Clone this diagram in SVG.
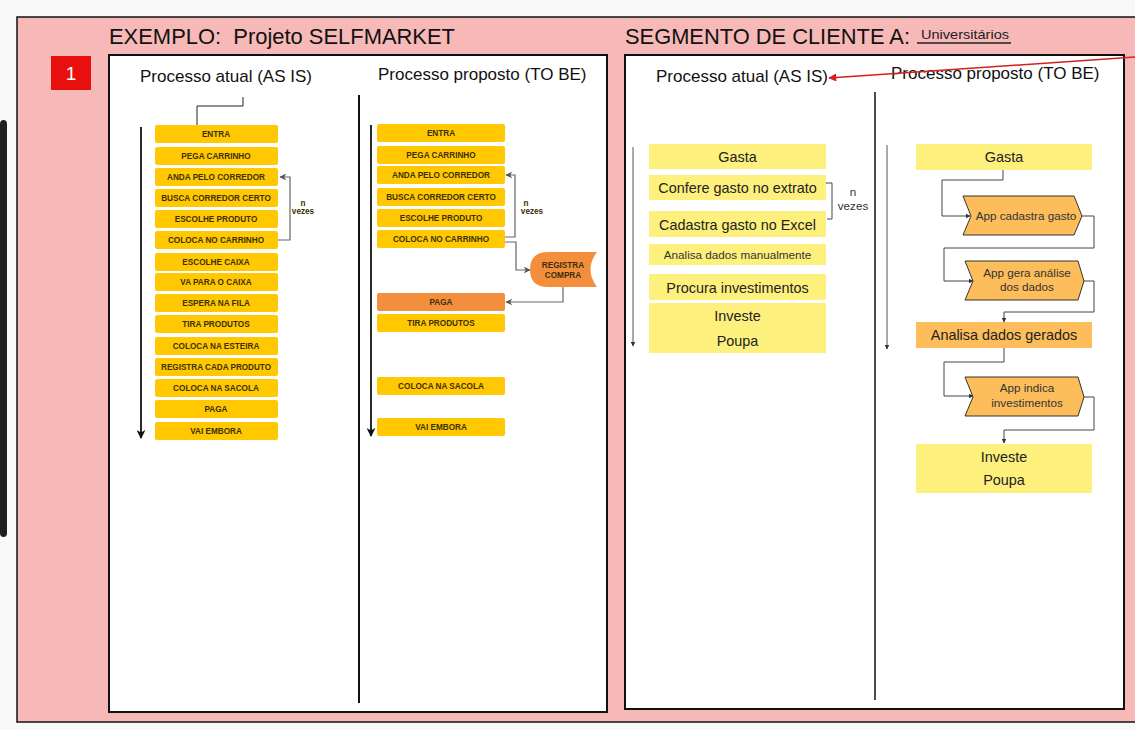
<svg xmlns="http://www.w3.org/2000/svg" width="1135" height="730" viewBox="0 0 1135 730">
<defs>
<style>
.frame{fill:#f7b8b8;stroke:#111;stroke-width:1.5}
.panel{fill:#fff;stroke:#111;stroke-width:2}
.title{font-family:"Liberation Sans",Arial,sans-serif;font-size:22px;fill:#111}
.hdr{font-family:"Liberation Sans",Arial,sans-serif;font-size:17px;fill:#111}
.gold{fill:#ffc800}
.org{fill:#f28e3c}
.pale{fill:#fdf07c}
.lorg{fill:#fdbd5b}
.chev{fill:#fdbd5b;stroke:#333;stroke-width:1}
.st{font-family:"Liberation Sans",Arial,sans-serif;font-size:8.2px;font-weight:bold;fill:#3d3008;text-anchor:middle}
.rt{font-family:"Liberation Sans",Arial,sans-serif;font-size:14.4px;fill:#222;text-anchor:middle}
.rs{font-family:"Liberation Sans",Arial,sans-serif;font-size:11.7px;fill:#333;text-anchor:middle}
.gl{fill:none;stroke:#666;stroke-width:1.2}
.dl{fill:none;stroke:#444;stroke-width:1}
.vl{stroke:#111;stroke-width:2}
</style>
<marker id="ga" viewBox="0 0 10 10" refX="9" refY="5" markerWidth="7" markerHeight="7" markerUnits="userSpaceOnUse" orient="auto"><path d="M0,0 L10,5 L0,10 L3,5 Z" fill="#555"/></marker>
<marker id="da" viewBox="0 0 10 10" refX="9" refY="5" markerWidth="5" markerHeight="5" markerUnits="userSpaceOnUse" orient="auto"><path d="M0,0 L10,5 L0,10 Z" fill="#333"/></marker>
<marker id="ba" viewBox="0 0 10 10" refX="9" refY="5" markerWidth="9" markerHeight="9" markerUnits="userSpaceOnUse" orient="auto"><path d="M0,0 L10,5 L0,10 L3,5 Z" fill="#111"/></marker>
<marker id="ra" viewBox="0 0 10 10" refX="9" refY="5" markerWidth="9" markerHeight="8" markerUnits="userSpaceOnUse" orient="auto"><path d="M0,0 L10,5 L0,10 Z" fill="#d42020"/></marker>
</defs>
<rect x="0" y="0" width="1135" height="730" fill="#f8f8f8"/>
<rect x="0" y="120" width="7" height="417" rx="4" fill="#1e1e1e"/>
<rect class="frame" x="17" y="17" width="1130" height="705"/>
<g id="badge"><rect x="51" y="56" width="40" height="34" fill="#e8100e"/><text x="71" y="80" font-family="Liberation Sans,Arial,sans-serif" font-size="19" fill="#fff" text-anchor="middle">1</text></g>
<g id="titles">
<text class="title" x="109" y="44" textLength="346" lengthAdjust="spacingAndGlyphs" xml:space="preserve">EXEMPLO:  Projeto SELFMARKET</text>
<text class="title" x="625" y="44" textLength="285" lengthAdjust="spacingAndGlyphs">SEGMENTO DE CLIENTE A:</text>
<text x="921" y="39" font-family="Liberation Sans,Arial,sans-serif" font-size="13.5" fill="#222" textLength="88" lengthAdjust="spacingAndGlyphs">Universitários</text>
<line x1="917" y1="43" x2="1011" y2="43" stroke="#222" stroke-width="1.5"/>
</g>
<rect class="panel" x="109" y="55" width="498" height="657"/>
<rect class="panel" x="625" y="55" width="499" height="654"/>
<g id="headers">
<text class="hdr" x="140" y="82">Processo atual (AS IS)</text>
<text class="hdr" x="378" y="80">Processo proposto (TO BE)</text>
<text class="hdr" x="656" y="82">Processo atual (AS IS)</text>
<text class="hdr" x="891" y="79">Processo proposto (TO BE)</text>
</g>
<line class="vl" x1="359" y1="95" x2="359" y2="703"/>
<line x1="875" y1="92" x2="875" y2="700" stroke="#111" stroke-width="1.5"/>
<g id="connectors">
<line x1="141" y1="127" x2="141" y2="438" stroke="#111" stroke-width="1.8" marker-end="url(#ba)"/>
<line x1="371" y1="125" x2="371" y2="436" stroke="#111" stroke-width="1.8" marker-end="url(#ba)"/>
<path d="M243,97 V106 H197 V135 H205" fill="none" stroke="#222" stroke-width="1"/>
<path class="gl" d="M278,240 H290 V177 H280" marker-end="url(#ga)"/>
<path class="gl" d="M505,237 H515 V175 H506" marker-end="url(#ga)"/>
<path class="gl" d="M505,242 H516 V270 H530" marker-end="url(#ga)"/>
<path class="gl" d="M563,287 V302 H506" marker-end="url(#ga)"/>
<line x1="633" y1="147" x2="633" y2="346" stroke="#555" stroke-width="1" marker-end="url(#da)"/>
<line x1="887" y1="145" x2="887" y2="349" stroke="#555" stroke-width="1" marker-end="url(#da)"/>
<path class="dl" d="M827,183 H832 V219 H827" marker-start="url(#da)"/>
<path class="dl" d="M1003,170 V180 H942 V216 H970" marker-end="url(#da)"/>
<path class="dl" d="M1082,216 H1094 V248 H944 V281 H973" marker-end="url(#da)"/>
<path class="dl" d="M1084,281 H1094 V312 H1004 V322" marker-end="url(#da)"/>
<path class="dl" d="M1004,348 V362 H944 V396 H973" marker-end="url(#da)"/>
<path class="dl" d="M1084,397 H1094 V430 H1004 V443" marker-end="url(#da)"/>
<line x1="1135" y1="57" x2="829" y2="78" stroke="#d42020" stroke-width="1.5" marker-end="url(#ra)"/>
</g>
<g id="asis-left">
<g id="l1"><rect class="gold" x="155" y="125" width="123" height="18" rx="2"/><text class="st" x="216" y="137">ENTRA</text></g>
<g id="l2"><rect class="gold" x="155" y="147" width="123" height="18" rx="2"/><text class="st" x="216" y="159">PEGA CARRINHO</text></g>
<g id="l3"><rect class="gold" x="155" y="168" width="123" height="18" rx="2"/><text class="st" x="216" y="180">ANDA PELO CORREDOR</text></g>
<g id="l4"><rect class="gold" x="155" y="189" width="123" height="18" rx="2"/><text class="st" x="216" y="201">BUSCA CORREDOR CERTO</text></g>
<g id="l5"><rect class="gold" x="155" y="210" width="123" height="18" rx="2"/><text class="st" x="216" y="222">ESCOLHE PRODUTO</text></g>
<g id="l6"><rect class="gold" x="155" y="231" width="123" height="18" rx="2"/><text class="st" x="216" y="243">COLOCA NO CARRINHO</text></g>
<g id="l7"><rect class="gold" x="155" y="253" width="123" height="18" rx="2"/><text class="st" x="216" y="265">ESCOLHE CAIXA</text></g>
<g id="l8"><rect class="gold" x="155" y="273" width="123" height="18" rx="2"/><text class="st" x="216" y="285">VA PARA O CAIXA</text></g>
<g id="l9"><rect class="gold" x="155" y="294" width="123" height="18" rx="2"/><text class="st" x="216" y="306">ESPERA NA FILA</text></g>
<g id="l10"><rect class="gold" x="155" y="315" width="123" height="18" rx="2"/><text class="st" x="216" y="327">TIRA PRODUTOS</text></g>
<g id="l11"><rect class="gold" x="155" y="337" width="123" height="18" rx="2"/><text class="st" x="216" y="349">COLOCA NA ESTEIRA</text></g>
<g id="l12"><rect class="gold" x="155" y="358" width="123" height="18" rx="2"/><text class="st" x="216" y="370" textLength="110" lengthAdjust="spacingAndGlyphs">REGISTRA CADA PRODUTO</text></g>
<g id="l13"><rect class="gold" x="155" y="379" width="123" height="18" rx="2"/><text class="st" x="216" y="391">COLOCA NA SACOLA</text></g>
<g id="l14"><rect class="gold" x="155" y="400" width="123" height="18" rx="2"/><text class="st" x="216" y="412">PAGA</text></g>
<g id="l15"><rect class="gold" x="155" y="422" width="123" height="18" rx="2"/><text class="st" x="216" y="434">VAI EMBORA</text></g>
<g id="l-nvezes"><text class="st" x="303" y="206" font-size="6.5">n</text><text class="st" x="303" y="214" font-size="6.5">vezes</text></g>
</g>
<g id="tobe-left">
<g id="m1"><rect class="gold" x="377" y="124" width="128" height="18" rx="2"/><text class="st" x="441" y="136">ENTRA</text></g>
<g id="m2"><rect class="gold" x="377" y="146" width="128" height="18" rx="2"/><text class="st" x="441" y="158">PEGA CARRINHO</text></g>
<g id="m3"><rect class="gold" x="377" y="166" width="128" height="18" rx="2"/><text class="st" x="441" y="178">ANDA PELO CORREDOR</text></g>
<g id="m4"><rect class="gold" x="377" y="188" width="128" height="18" rx="2"/><text class="st" x="441" y="200">BUSCA CORREDOR CERTO</text></g>
<g id="m5"><rect class="gold" x="377" y="209" width="128" height="18" rx="2"/><text class="st" x="441" y="221">ESCOLHE PRODUTO</text></g>
<g id="m6"><rect class="gold" x="377" y="230" width="128" height="18" rx="2"/><text class="st" x="441" y="242">COLOCA NO CARRINHO</text></g>
<g id="m7"><path class="org" d="M548,252 H597 Q584,269.5 597,287 H548 Q530,287 530,269.5 Q530,252 548,252 Z"/><text class="st" x="563" y="268" font-size="6.3" font-weight="normal">REGISTRA</text><text class="st" x="563" y="278" font-size="6.3" font-weight="normal">COMPRA</text></g>
<g id="m8"><rect class="org" x="377" y="293" width="128" height="18" rx="2"/><text class="st" x="441" y="305">PAGA</text></g>
<g id="m9"><rect class="gold" x="377" y="314" width="128" height="18" rx="2"/><text class="st" x="441" y="326">TIRA PRODUTOS</text></g>
<g id="m10"><rect class="gold" x="377" y="377" width="128" height="18" rx="2"/><text class="st" x="441" y="389">COLOCA NA SACOLA</text></g>
<g id="m11"><rect class="gold" x="377" y="418" width="128" height="18" rx="2"/><text class="st" x="441" y="430">VAI EMBORA</text></g>
<g id="m-nvezes"><text class="st" x="526" y="206" font-size="6.5">n</text><text class="st" x="532" y="214" font-size="6.5">vezes</text></g>
</g>
<g id="asis-right">
<g id="r1"><rect class="pale" x="649" y="144" width="177" height="25"/><text class="rt" x="737.5" y="162">Gasta</text></g>
<g id="r2"><rect class="pale" x="649" y="175" width="177" height="25"/><text class="rt" x="737.5" y="192.5">Confere gasto no extrato</text></g>
<g id="r3"><rect class="pale" x="649" y="211" width="177" height="26"/><text class="rt" x="737.5" y="229.5">Cadastra gasto no Excel</text></g>
<g id="r4"><rect class="pale" x="649" y="244" width="177" height="21"/><text class="rs" x="737.5" y="258.5" font-size="12">Analisa dados manualmente</text></g>
<g id="r5"><rect class="pale" x="649" y="274" width="177" height="26"/><text class="rt" x="737.5" y="292.5">Procura investimentos</text></g>
<g id="r6"><rect class="pale" x="649" y="303" width="177" height="50"/><text class="rt" x="737.5" y="321">Investe</text><text class="rt" x="737.5" y="346">Poupa</text></g>
<g id="r-nvezes"><text class="rs" x="853" y="196" font-size="11">n</text><text class="rs" x="853" y="210" font-size="11">vezes</text></g>
</g>
<g id="tobe-right">
<g id="t1"><rect class="pale" x="916" y="144" width="176" height="26"/><text class="rt" x="1004" y="162">Gasta</text></g>
<g id="t2"><path class="chev" d="M963,196 H1074 L1082,216 L1074,235 H963 L971,216 Z"/><text class="rs" x="1026" y="220">App cadastra gasto</text></g>
<g id="t3"><path class="chev" d="M965,261 H1078 L1084,281 L1078,300 H965 L973,281 Z"/><text class="rs" x="1027" y="277">App gera análise</text><text class="rs" x="1027" y="291">dos dados</text></g>
<g id="t4"><rect class="lorg" x="916" y="322" width="176" height="26"/><text class="rt" x="1004" y="340">Analisa dados gerados</text></g>
<g id="t5"><path class="chev" d="M965,377 H1078 L1084,397 L1078,416 H965 L973,397 Z"/><text class="rs" x="1027" y="392">App indica</text><text class="rs" x="1027" y="407">investimentos</text></g>
<g id="t6"><rect class="pale" x="916" y="444" width="176" height="49"/><text class="rt" x="1004" y="462">Investe</text><text class="rt" x="1004" y="485">Poupa</text></g>
</g>
</svg>
